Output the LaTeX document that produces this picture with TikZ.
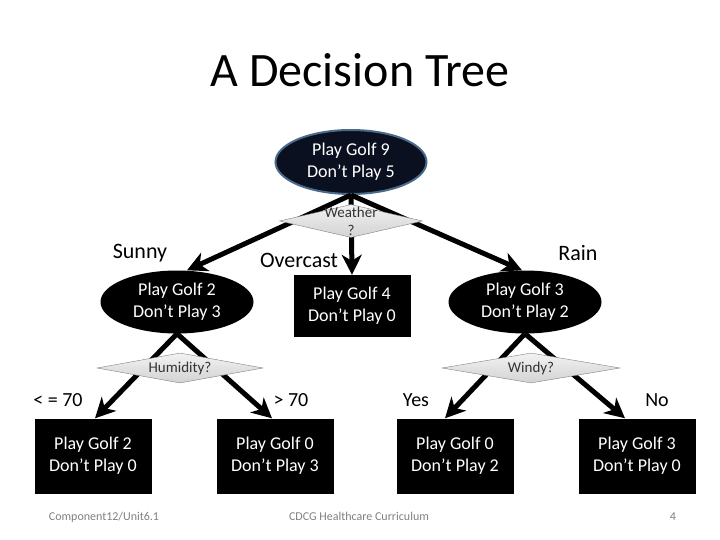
\documentclass[tikz,border=0pt]{standalone}
\usepackage{fontspec}
\setmainfont{Carlito}
\usetikzlibrary{shapes.geometric,arrows.meta}
\definecolor{rootfill}{HTML}{0B1020}
\definecolor{rootline}{HTML}{4A6A8C}
\tikzset{
    golf-ellipse/.style = {ellipse, fill=black, text=white, inner sep=0pt, minimum width=153pt, minimum height=63pt, align=center, font=\fontsize{18}{22}\selectfont},
    golf-box/.style = {rectangle, fill=black, text=white, inner sep=0pt, minimum width=117pt, align=center, font=\fontsize{18}{22}\selectfont},
    test-diamond/.style = {diamond, draw=gray, top color=gray!10, bottom color=gray!35, inner sep=0pt, minimum height=31pt},
    test-text/.style = {align=center, text=black!80, font=\fontsize{15}{18}\selectfont},
    branch-arrow/.style = {line width=5pt, -{Stealth[length=20pt,width=20pt,inset=6pt]}},
    branch-label/.style = {font=\fontsize{22}{26}\selectfont},
    footer-text/.style = {text=gray, anchor=base, font=\fontsize{12}{14}\selectfont},
}
\begin{document}
\begin{tikzpicture}[x=1pt,y=-1pt]
\useasboundingbox (0,0) rectangle (720,540);
\node[font=\fontsize{48}{56}\selectfont] (title) at (360,70) {A Decision Tree};
% tree nodes
\node[golf-ellipse, fill=rootfill, draw=rootline, line width=2pt, minimum width=151pt, minimum height=64pt] (root) at (351,162) {Play Golf 9\\Don’t Play 5};
\node[golf-ellipse] (sunny) at (177,302) {Play Golf 2\\Don’t Play 3};
\node[golf-box, minimum height=62pt] (overcast) at (352,306) {Play Golf 4\\Don’t Play 0};
\node[golf-ellipse] (rain) at (525,302) {Play Golf 3\\Don’t Play 2};
\node[golf-box, minimum height=75pt] (leafa) at (93,456) {Play Golf 2\\Don’t Play 0};
\node[golf-box, minimum height=75pt] (leafb) at (275,456) {Play Golf 0\\Don’t Play 3};
\node[golf-box, minimum height=75pt] (leafc) at (455,456) {Play Golf 0\\Don’t Play 2};
\node[golf-box, minimum height=75pt] (leafd) at (637,456) {Play Golf 3\\Don’t Play 0};
% branches
\draw[branch-arrow] (root.south) -- ([xshift=10pt]sunny.north);
\draw[branch-arrow] (root.south) -- (overcast.north);
\draw[branch-arrow] (root.south) -- ([xshift=-3pt]rain.north);
\draw[branch-arrow] (sunny.south) -- ([xshift=2pt]leafa.north);
\draw[branch-arrow] (sunny.south) -- ([xshift=-3pt]leafb.north);
\draw[branch-arrow] (rain.south) -- ([xshift=-10pt]leafc.north);
\draw[branch-arrow] (rain.south) -- ([xshift=-12pt]leafd.north);
% tests
\node[test-diamond, minimum width=143pt, minimum height=33pt, label={[test-text]center:{Weather\\?}}] (weather) at (351,221) {};
\node[test-diamond, minimum width=166pt, minimum height=30pt, label={[test-text]center:Humidity?}] (humidity) at (180,368) {};
\node[test-diamond, minimum width=178pt, minimum height=30pt, label={[test-text]center:Windy?}] (windy) at (531,368) {};
% branch labels
\node[branch-label] (sunnylbl) at (140,253) {Sunny};
\node[branch-label] (overcastlbl) at (299,260) {Overcast};
\node[branch-label] (rainlbl) at (578,253) {Rain};
\node[branch-label, font=\fontsize{20}{24}\selectfont] (lowlbl) at (58,400) {< = 70};
\node[branch-label, font=\fontsize{20}{24}\selectfont] (highlbl) at (291,400) {> 70};
\node[branch-label, font=\fontsize{20}{24}\selectfont] (yeslbl) at (416,400) {Yes};
\node[branch-label, font=\fontsize{20}{24}\selectfont] (nolbl) at (657,400) {No};
% footer
\node[footer-text] (unit) at (104,520) {Component12/Unit6.1};
\node[footer-text] (curric) at (359,520) {CDCG Healthcare Curriculum};
\node[footer-text] (page) at (673,520) {4};
\end{tikzpicture}
\end{document}
